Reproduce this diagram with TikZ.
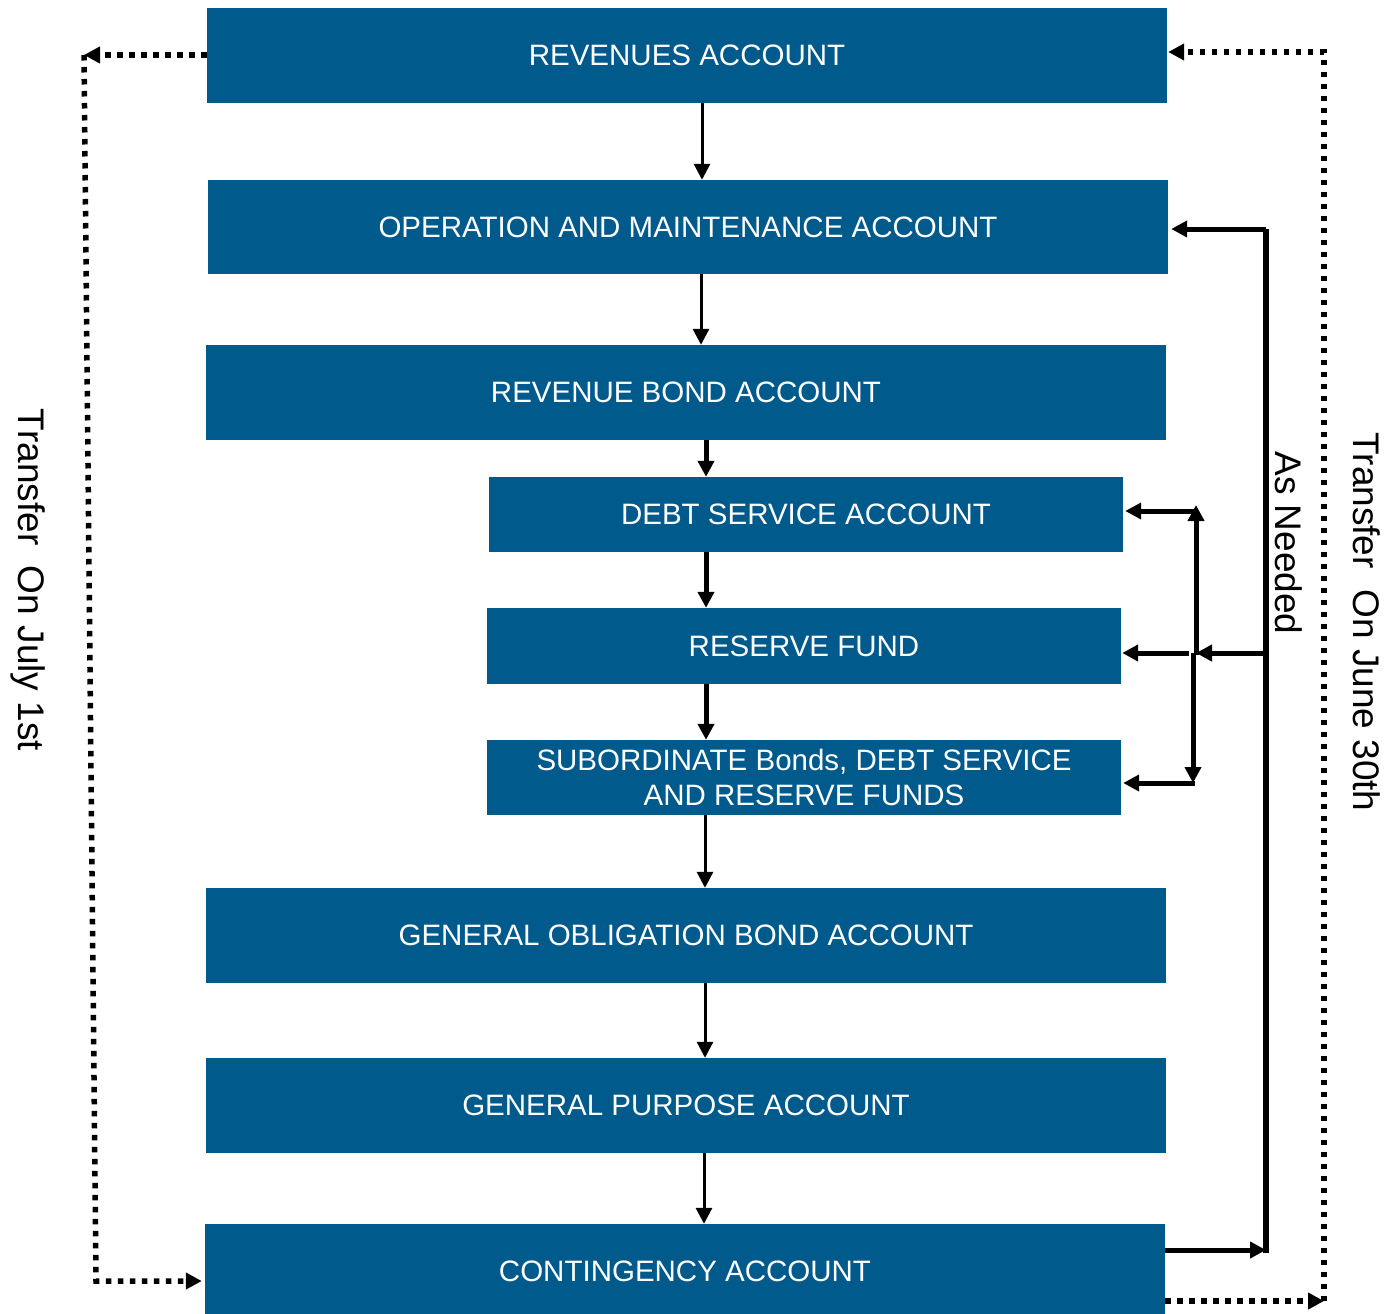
\documentclass[tikz,border=0pt]{standalone}
\usepackage{fontspec}
\setmainfont{Liberation Sans}
\usetikzlibrary{arrows.meta}
\definecolor{acctblue}{HTML}{015A8C}
\tikzset{
  acct/.style={fill=acctblue, text=white, inner sep=0pt, align=center,
    font=\fontsize{29.5}{35}\selectfont},
  wide/.style={acct, minimum width=960pt, minimum height=95pt},
  narrow/.style={acct, minimum width=634pt, minimum height=76pt},
  tip/.style={-{Triangle[length=16pt,width=16pt]}},
  flow/.style={tip, line width=3pt},
  heavy/.style={tip, line width=5pt},
  bus/.style={line width=5.5pt},
  dotline/.style={line width=5.5pt, dash pattern=on 5.5pt off 6.5pt},
  sidelabel/.style={rotate=-90, font=\fontsize{37}{42}\selectfont, inner sep=0pt}
}
\begin{document}
\begin{tikzpicture}[x=1pt,y=-1pt]
\useasboundingbox (0,0) rectangle (1397,1314);

% account boxes
\node[wide]   (rev)  at (687,55.5)   {REVENUES ACCOUNT};
\node[wide, minimum height=94pt] (om) at (688,227) {OPERATION AND MAINTENANCE ACCOUNT};
\node[wide]   (rb)   at (686,392.5)  {REVENUE BOND ACCOUNT};
\node[narrow, minimum height=75pt] (ds) at (806,514.5) {DEBT SERVICE ACCOUNT};
\node[narrow] (rf)   at (804,646)    {RESERVE FUND};
\node[narrow, minimum height=75pt] (sub) at (804,777.5) {SUBORDINATE Bonds, DEBT SERVICE\\AND RESERVE FUNDS};
\node[wide]   (go)   at (686,935.5)  {GENERAL OBLIGATION BOND ACCOUNT};
\node[wide]   (gp)   at (686,1105.5) {GENERAL PURPOSE ACCOUNT};
\node[wide]   (cont) at (685,1271.5) {CONTINGENCY ACCOUNT};

% downward flow
\draw[flow]  (rev.south -| 702,0) -- (om.north -| 702,0);
\draw[flow]  (om.south -| 701,0)  -- (rb.north -| 701,0);
\draw[heavy] (rb.south -| 706,0)  -- (ds.north -| 706,0);
\draw[heavy] (ds.south -| 706,0)  -- (rf.north -| 706,0);
\draw[heavy] (rf.south -| 706,0)  -- (sub.north -| 706,0);
\draw[flow]  (sub.south -| 705,0) -- (go.north -| 705,0);
\draw[flow]  (go.south -| 705,0)  -- (gp.north -| 705,0);
\draw[flow]  (gp.south -| 704,0)  -- (cont.north -| 704,0);

% "As Needed" return path
\coordinate (cbase) at (1266,1250);
\coordinate (ctop)  at (1266,229);
\coordinate (cmid)  at (1266,653);
\coordinate (jup)   at (1196,653);
\coordinate (jdn)   at (1193,653);
\draw[heavy] (cont.east |- cbase) -- (cbase);
\draw[bus] (1266,1253) -- (ctop);
\draw[heavy] (ctop) -- ([xshift=3pt]om.east |- ctop);
\draw[heavy] (cmid) -- (jup);
\draw[heavy] (1189,653) -- ([xshift=1pt]rf.east |- cmid);
\draw[heavy] (1196,655) -- (1196,505);
\draw[heavy] (1198,511) -- ([xshift=2pt]ds.east |- 0,511);
\draw[heavy] (jdn) -- (1193,783);
\draw[heavy] (1195,783) -- ([xshift=2pt]sub.east |- 0,783);

% transfer on July 1st
\coordinate (ltop) at (84,55);
\coordinate (lbot) at (96,1281);
\draw[dotline, tip] (rev.west |- ltop) -- (ltop);
\draw[dotline, tip] (ltop) -- (lbot) -- ([xshift=-3pt]cont.west |- lbot);

% transfer on June 30th
\coordinate (rbot) at (1324,1301);
\coordinate (rtop) at (1324,52);
\draw[dotline, tip] (cont.east |- rbot) -- (rbot);
\draw[dotline, tip] (rbot) -- (rtop) -- ([xshift=1pt]rev.east |- rtop);

% side labels
\node[sidelabel] (lbl1) at (28,580)   {Transfer\ \ On July 1st};
\node[sidelabel] (lbl2) at (1289,543) {As Needed};
\node[sidelabel] (lbl3) at (1367,622) {Transfer\ \ On June 30th};
\end{tikzpicture}
\end{document}
